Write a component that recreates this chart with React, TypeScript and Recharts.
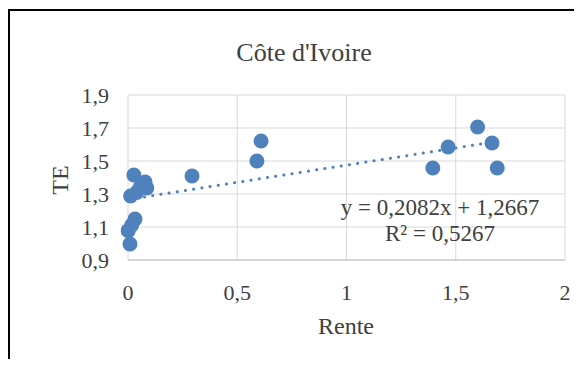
import React from 'react';
import { ScatterChart, Scatter, XAxis, YAxis, CartesianGrid } from 'recharts';

// Rente (x) vs TE (y), Côte d'Ivoire
const renteValues = [0.001, 0.009, 0.017, 0.032, 0.012, 0.027, 0.078, 0.086, 0.055, 0.04, 0.065, 0.293, 0.59, 0.609, 1.395, 1.465, 1.6, 1.666, 1.69];
const teValues = [1.078, 0.997, 1.112, 1.148, 1.288, 1.415, 1.373, 1.336, 1.34, 1.31, 1.36, 1.409, 1.5, 1.621, 1.458, 1.585, 1.706, 1.609, 1.458];

// linear trend: y = 0,2082x + 1,2667
const trendX = [0, 1.69];
const trendY = [1.2667, 1.6186];

const xTicks = [0, 0.5, 1, 1.5, 2];
const yTicks = [0.9, 1.1, 1.3, 1.5, 1.7, 1.9];

const points = renteValues.map((x, i) => ({ x, y: teValues[i] }));
const trend = trendX.map((x, i) => ({ x, y: trendY[i] }));

const BLUE = '#4F81BD';
const TEXT = '#404040';
const FONT = 'Liberation Serif, Times New Roman, DejaVu Serif, serif';

const fmt = (v: number) => String(v).replace('.', ',');

const Dot = (p: any) => <circle cx={p.cx} cy={p.cy} r={7.5} fill={BLUE} />;
const NoDot = () => <g />;

export default function App() {
  return (
    <div style={{ position: 'relative', width: 582, height: 367, margin: -8, overflow: 'hidden', background: '#fff', fontFamily: FONT }}>
      <div style={{ position: 'absolute', left: 8, top: 9, width: 640, height: 420, border: '2px solid #000', boxSizing: 'border-box' }} />
      <div style={{ position: 'absolute', left: 0, top: 0 }}>
        <ScatterChart width={582} height={367} margin={{ top: 95, right: 17, bottom: 47, left: 0 }} style={{ fontFamily: FONT }}>
          <CartesianGrid stroke="#d9d9d9" strokeWidth={1} />
          <XAxis
            type="number"
            dataKey="x"
            domain={[0, 2]}
            ticks={xTicks}
            tickFormatter={fmt}
            height={60}
            axisLine={{ stroke: '#bfbfbf' }}
            tickLine={false}
            tickSize={0}
            tickMargin={24}
            tick={{ fill: TEXT, fontSize: 22, fontFamily: FONT }}
          />
          <YAxis
            type="number"
            dataKey="y"
            domain={[0.9, 1.9]}
            ticks={yTicks}
            tickFormatter={fmt}
            width={128}
            axisLine={false}
            tickLine={false}
            tickSize={0}
            tickMargin={19}
            tick={{ fill: TEXT, fontSize: 22, fontFamily: FONT }}
          />
          <Scatter data={points} shape={Dot} isAnimationActive={false} />
          <Scatter
            data={trend}
            shape={NoDot}
            line={{ stroke: BLUE, strokeWidth: 3, strokeDasharray: '0.1 8.2', strokeLinecap: 'round' }}
            isAnimationActive={false}
          />
        </ScatterChart>
      </div>
      <svg width={582} height={367} style={{ position: 'absolute', left: 0, top: 0, pointerEvents: 'none', fontFamily: FONT }}>
        <text x={248} y={1} textAnchor="middle" fontSize={30} fontWeight="bold" fill="#000">g</text>
        <text x={304} y={52} textAnchor="middle" dominantBaseline="central" fontSize={26} fill={TEXT}>Côte d'Ivoire</text>
        <text x={346} y={326} textAnchor="middle" dominantBaseline="central" fontSize={24} fill={TEXT}>Rente</text>
        <text x={60} y={180} textAnchor="middle" dominantBaseline="central" fontSize={24} fill={TEXT} transform="rotate(-90 60 180)">TE</text>
        <text x={440} y={207} textAnchor="middle" dominantBaseline="central" fontSize={23} fill={TEXT}>y = 0,2082x + 1,2667</text>
        <text x={440} y={233} textAnchor="middle" dominantBaseline="central" fontSize={23} fill={TEXT}>R² = 0,5267</text>
      </svg>
    </div>
  );
}
